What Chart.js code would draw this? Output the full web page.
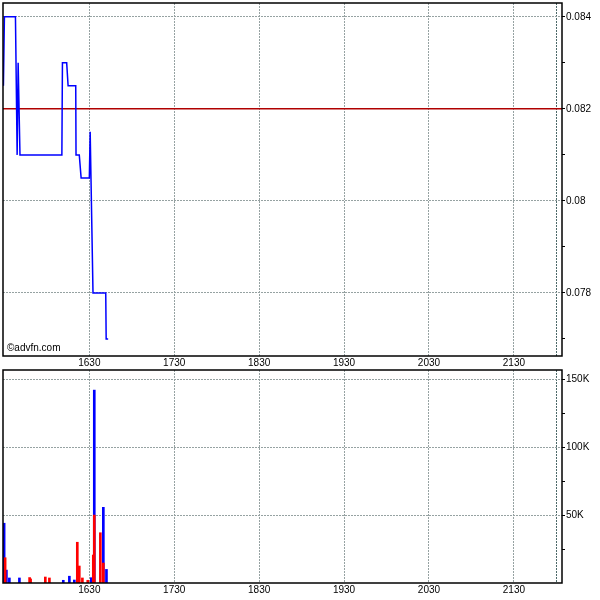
<!DOCTYPE html>
<html>
<head>
<meta charset="utf-8">
<script src="https://cdn.jsdelivr.net/npm/chart.js@4.4.1/dist/chart.umd.min.js"></script>
<style>
  html, body { margin: 0; padding: 0; background: #fff; }
  #wrap { position: relative; width: 600px; height: 600px; }
  #price { position: absolute; left: 0; top: 0; }
  #volume { position: absolute; left: 0; top: 358px; }
</style>
</head>
<body>
<div id="wrap">
  <canvas id="price" width="600" height="360"></canvas>
  <canvas id="volume" width="600" height="242"></canvas>
</div>
<script>
// time is minutes after midnight (930 = 15:30)
const priceTimes = [929.3, 930, 937.8, 939, 939.7, 941, 970.6, 971, 974, 975, 980.4, 980.6, 982.9, 984.2, 990, 990.6, 992.6, 1001.6, 1001.9, 1003.3];
const prices = [0.0825, 0.084, 0.084, 0.081, 0.083, 0.081, 0.081, 0.083, 0.083, 0.0825, 0.0825, 0.081, 0.081, 0.0805, 0.0805, 0.0815, 0.078, 0.078, 0.077, 0.077];

const buyTimes = [929.8, 931.4, 933.5, 940.6, 971.6, 975.9, 979.4, 991.4, 993.5, 999.9, 1002.1];
const buyVolumes = [44000, 9500, 3700, 3700, 2000, 5000, 2200, 3900, 142000, 55700, 10000];
const sellTimes = [930.5, 947.8, 948.5, 958.9, 961.8, 981.5, 982.9, 985.1, 988.9, 992.8, 993.5, 997.8, 999.9];
const sellVolumes = [18600, 4000, 3000, 4400, 3700, 30000, 12500, 3700, 2000, 20600, 50000, 37000, 14700];

const timeTicks = [990, 1050, 1110, 1170, 1230, 1290, 1320];
const timeLabels = ['1630', '1730', '1830', '1930', '2030', '2130', ''];
const priceTicks = [0.077, 0.078, 0.079, 0.08, 0.081, 0.082, 0.083, 0.084];
const priceLabels = ['', '0.078', '', '0.08', '', '0.082', '', '0.084'];
const prevClose = 0.082;
const volumeTicks = [25000, 50000, 75000, 100000, 125000, 150000];
const volumeLabels = ['', '50K', '', '100K', '', '150K'];

const FONT = { family: 'Liberation Sans, Arial, sans-serif', size: 10 };
const GRID = '#96a2a2';
const DAY_END = '#4e6a6a';

const frame = {
  id: 'frame',
  beforeDatasetsDraw(chart, args, opts) {
    if (opts.refLine === undefined) return;
    const a = chart.chartArea;
    const y = chart.scales.y.getPixelForValue(opts.refLine);
    const ctx = chart.ctx;
    ctx.save();
    ctx.strokeStyle = '#b00000';
    ctx.lineWidth = 1.5;
    ctx.beginPath();
    ctx.moveTo(a.left, y);
    ctx.lineTo(a.right, y);
    ctx.stroke();
    ctx.restore();
  },
  afterDraw(chart, args, opts) {
    const a = chart.chartArea;
    const ctx = chart.ctx;
    ctx.save();
    ctx.strokeStyle = '#000';
    ctx.lineWidth = 1.5;
    ctx.strokeRect(a.left, a.top, a.right - a.left, a.bottom - a.top);
    if (opts.text) {
      ctx.fillStyle = '#000';
      ctx.font = '10px Liberation Sans, Arial, sans-serif';
      ctx.textBaseline = 'bottom';
      ctx.fillText(opts.text, a.left + 4, a.bottom - 3);
    }
    ctx.restore();
  }
};

const noPad = s => { s.paddingTop = 0; s.paddingBottom = 0; s.paddingLeft = 0; s.paddingRight = 0; };

const timeGridColor = c => (c.tick && c.tick.value === 1320) ? DAY_END : GRID;

const timeAxis = (pos, showLabels, h, gridOn) => ({
  type: 'linear',
  position: pos,
  min: 929,
  max: 1324,
  offset: false,
  afterBuildTicks: s => { s.ticks = timeTicks.map(v => ({ value: v })); },
  afterFit: s => { s.height = h; noPad(s); },
  ticks: {
    display: showLabels,
    autoSkip: false,
    maxRotation: 0,
    padding: 1,
    color: '#000',
    font: FONT,
    callback: v => timeLabels[timeTicks.indexOf(v)]
  },
  grid: { display: gridOn, offset: false, color: timeGridColor, drawTicks: false, lineWidth: 1 },
  border: { display: false, dash: [2, 1] }
});

new Chart(document.getElementById('price'), {
  type: 'line',
  data: {
    datasets: [{
      data: priceTimes.map((t, i) => ({ x: t, y: prices[i] })),
      borderColor: '#0000ff',
      borderWidth: 1.5,
      pointRadius: 0,
      tension: 0,
      fill: false
    }]
  },
  options: {
    responsive: false,
    animation: false,
    layout: { padding: { left: 3, top: 3, right: 0, bottom: 4 } },
    plugins: { legend: { display: false }, tooltip: { enabled: false }, frame: { text: '©advfn.com', refLine: prevClose } },
    scales: {
      x: timeAxis('bottom', false, 0, true),
      y: {
        position: 'right',
        min: 0.07663,
        max: 0.0843,
        afterBuildTicks: s => { s.ticks = priceTicks.map(v => ({ value: v })); },
        afterFit: s => { s.width = 38; noPad(s); },
        ticks: {
          color: '#000',
          font: FONT,
          padding: 1,
          callback: v => priceLabels[priceTicks.indexOf(v)]
        },
        grid: {
          color: c => {
            if (!c.tick) return GRID;
            return priceLabels[priceTicks.indexOf(c.tick.value)] === '' ? 'rgba(0,0,0,0)' : GRID;
          },
          tickColor: '#000',
          tickLength: 3
        },
        border: { display: false, dash: [2, 1] }
      }
    }
  },
  plugins: [frame]
});

new Chart(document.getElementById('volume'), {
  type: 'bar',
  data: {
    datasets: [{
      data: sellTimes.map((t, i) => ({ x: t, y: sellVolumes[i] })),
      backgroundColor: '#ff0000',
      barThickness: 2,
      grouped: false
    }, {
      data: buyTimes.map((t, i) => ({ x: t, y: buyVolumes[i] })),
      backgroundColor: '#0000ff',
      barThickness: 2,
      grouped: false
    }]
  },
  options: {
    responsive: false,
    animation: false,
    layout: { padding: { left: 3, top: 0, right: 0, bottom: 0 } },
    plugins: { legend: { display: false }, tooltip: { enabled: false }, frame: {} },
    scales: {
      x: timeAxis('bottom', true, 17, true),
      xTop: timeAxis('top', true, 12, false),
      y: {
        position: 'right',
        min: 0,
        max: 156800,
        afterBuildTicks: s => { s.ticks = volumeTicks.map(v => ({ value: v })); },
        afterFit: s => { s.width = 38; noPad(s); },
        ticks: {
          color: '#000',
          font: FONT,
          padding: 1,
          callback: v => volumeLabels[volumeTicks.indexOf(v)]
        },
        grid: {
          color: c => {
            if (!c.tick) return GRID;
            return volumeLabels[volumeTicks.indexOf(c.tick.value)] === '' ? 'rgba(0,0,0,0)' : GRID;
          },
          tickColor: '#000',
          tickLength: 3
        },
        border: { display: false, dash: [2, 1] }
      }
    }
  },
  plugins: [frame]
});
</script>
</body>
</html>
